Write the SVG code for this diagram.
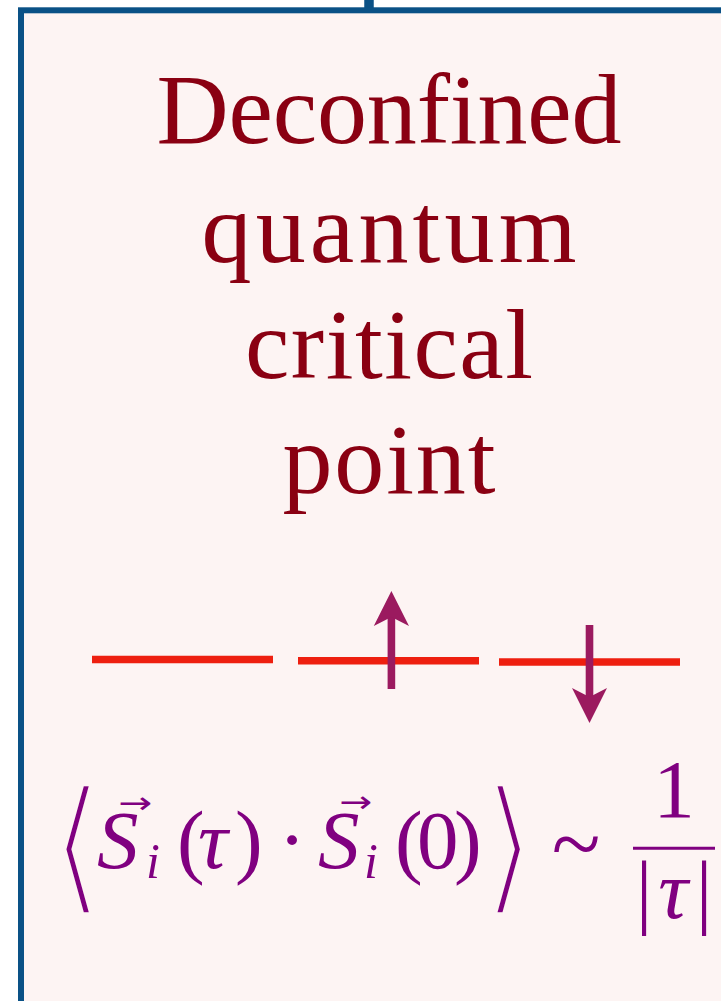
<svg xmlns="http://www.w3.org/2000/svg" width="721" height="1001" viewBox="0 0 721 1001">
<style>
.title{font-family:"Liberation Serif",serif;font-size:100px;fill:#8a0012;text-anchor:middle}
.m{font-family:"Liberation Serif",serif;font-size:83px;fill:#800080}
.mi{font-family:"Liberation Serif",serif;font-style:italic;font-size:83px;fill:#800080}
.sub{font-family:"Liberation Serif",serif;font-style:italic;font-size:50px;fill:#800080}
.vec{font-family:"DejaVu Sans",sans-serif;font-size:30px;fill:#800080}
.br{font-family:"DejaVu Sans",sans-serif;font-size:83px;fill:#800080;stroke:#fdf4f3;stroke-width:3.6}
.lvl{stroke:#ee1f0f;stroke-width:7.5}
.spin{fill:#9b1a5f}
</style>
<rect width="721" height="1001" fill="#ffffff"/>
<g id="connectors">
  <line x1="369" y1="0" x2="369" y2="11" stroke="#0a5186" stroke-width="9.5"/>
</g>
<g id="dqcp-node">
  <rect x="21" y="10.3" width="740" height="1020" fill="#fdf4f3" stroke="#0a5186" stroke-width="6"/>
  <g id="title">
    <text class="title" x="389" y="143" textLength="465">Deconfined</text>
    <text class="title" x="389" y="262" textLength="375">quantum</text>
    <text class="title" x="389" y="378" textLength="288">critical</text>
    <text class="title" x="389" y="493" textLength="213">point</text>
  </g>
  <g id="levels">
    <line class="lvl" x1="92" y1="659.5" x2="273" y2="659.5"/>
    <line class="lvl" x1="298" y1="660.7" x2="479" y2="660.7"/>
    <line class="lvl" x1="499" y1="662" x2="680" y2="662"/>
  </g>
  <g id="spins">
    <rect class="spin" x="387.6" y="612" width="7.6" height="77"/>
    <polygon class="spin" points="391.4,591 409,626 391.4,617 373.8,626"/>
    <rect class="spin" x="585.7" y="625" width="7.6" height="76"/>
    <polygon class="spin" points="589.5,723 607,688 589.5,697 572,688"/>
  </g>
  <g id="formula">
    <text class="br" transform="translate(51.5,896) scale(1.6,1.79)" x="0" y="0">⟨</text>
    <text class="vec" x="118" y="813" textLength="34" lengthAdjust="spacingAndGlyphs">→</text>
    <text class="mi" x="97" y="868">S</text>
    <text class="sub" x="146" y="878">i</text>
    <text class="m" x="177" y="868">(</text>
    <text class="mi" x="198" y="868">τ</text>
    <text class="m" x="235" y="868">)</text>
    <text class="m" x="292" y="868" text-anchor="middle">·</text>
    <text class="vec" x="339" y="812" textLength="33" lengthAdjust="spacingAndGlyphs">→</text>
    <text class="mi" x="318" y="868">S</text>
    <text class="sub" x="364" y="878">i</text>
    <text class="m" x="395" y="868">(</text>
    <text class="m" x="417" y="868">0</text>
    <text class="m" x="454" y="868">)</text>
    <text class="br" transform="translate(483,896) scale(1.6,1.79)" x="0" y="0">⟩</text>
    <text class="m" x="576" y="874" text-anchor="middle" style="font-size:90px">~</text>
    <text class="m" x="674" y="817" text-anchor="middle">1</text>
    <line x1="633" y1="848.3" x2="715" y2="848.3" stroke="#800080" stroke-width="3"/>
    <text class="m" x="644" y="918" text-anchor="middle">|</text>
    <text class="mi" x="673" y="918" text-anchor="middle">τ</text>
    <text class="m" x="704" y="918" text-anchor="middle">|</text>
  </g>
</g>
</svg>
